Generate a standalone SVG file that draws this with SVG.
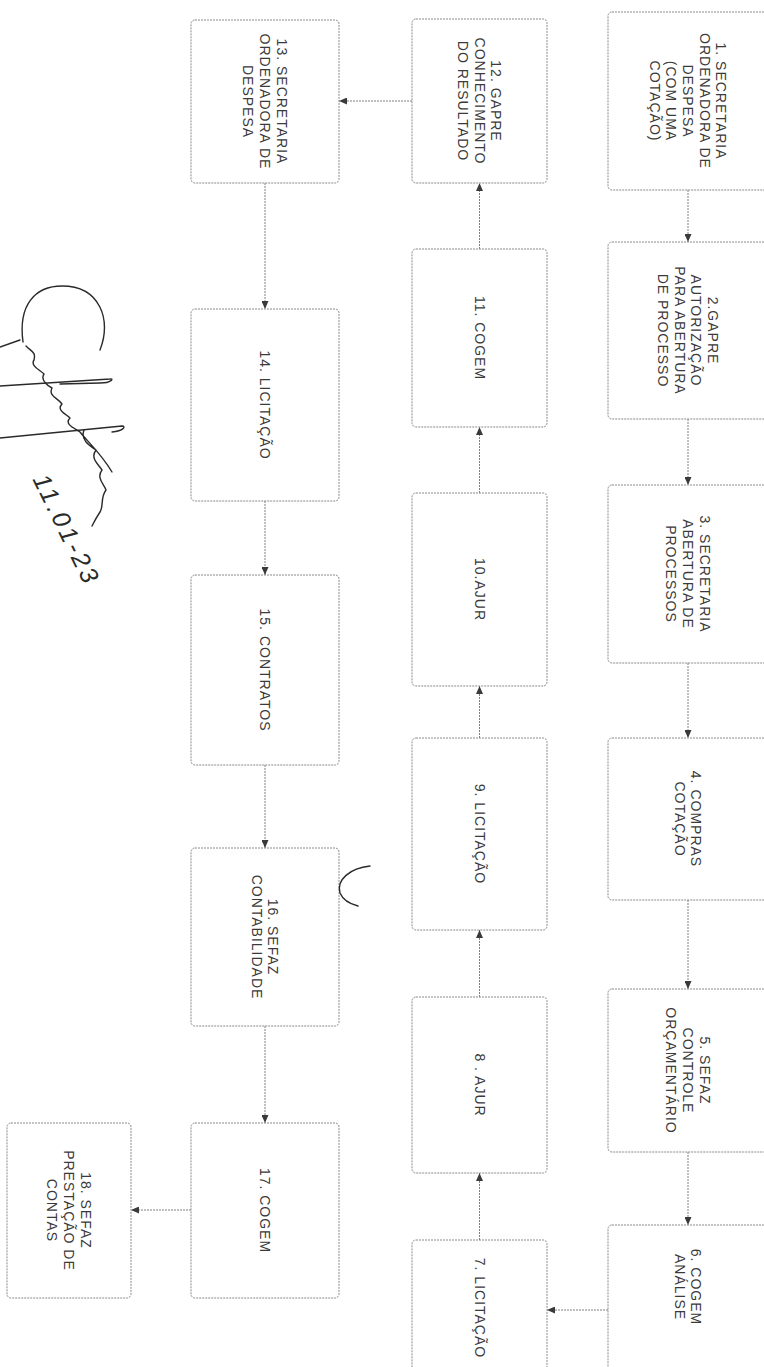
<svg xmlns="http://www.w3.org/2000/svg" width="764" height="1367" viewBox="0 0 764 1367">
<style>
.box{fill:#fff;stroke:#8a8a8a;stroke-width:1;stroke-dasharray:2 1}
.lbl{font-family:"Liberation Sans",Arial,sans-serif;font-size:14px;letter-spacing:1px;fill:#3a3a3a;text-anchor:middle}
.con{fill:none;stroke:#808080;stroke-width:1;stroke-dasharray:2 1}
.ink{fill:none;stroke:#2a2a2a;stroke-width:1.4;stroke-linecap:round;stroke-linejoin:round}
.date{font-family:"Liberation Sans",Arial,sans-serif;font-style:italic;font-size:25px;letter-spacing:3px;fill:#2a2a2a;text-anchor:middle}
</style>
<defs>
<marker id="ah" markerUnits="userSpaceOnUse" markerWidth="8" markerHeight="7" refX="8" refY="3.5" orient="auto">
<path d="M0,0 L8,3.5 L0,7 z" fill="#3a3a3a"/>
</marker>
</defs>
<rect width="764" height="1367" fill="#fff"/>
<g id="connectors">
<path class="con" d="M688,190 V242" marker-end="url(#ah)"/>
<path class="con" d="M688,419 V485" marker-end="url(#ah)"/>
<path class="con" d="M688,663 V738" marker-end="url(#ah)"/>
<path class="con" d="M688,900 V989" marker-end="url(#ah)"/>
<path class="con" d="M688,1152 V1225" marker-end="url(#ah)"/>
<path class="con" d="M608,1310 H547" marker-end="url(#ah)"/>
<path class="con" d="M479.5,1240 V1173" marker-end="url(#ah)"/>
<path class="con" d="M479.5,997 V930" marker-end="url(#ah)"/>
<path class="con" d="M479.5,738 V686" marker-end="url(#ah)"/>
<path class="con" d="M479.5,493 V427" marker-end="url(#ah)"/>
<path class="con" d="M479.5,249 V183" marker-end="url(#ah)"/>
<path class="con" d="M412,101 H339" marker-end="url(#ah)"/>
<path class="con" d="M265,183 V309" marker-end="url(#ah)"/>
<path class="con" d="M265,501 V575" marker-end="url(#ah)"/>
<path class="con" d="M265,765 V848" marker-end="url(#ah)"/>
<path class="con" d="M265,1026 V1123" marker-end="url(#ah)"/>
<path class="con" d="M191,1210 H131" marker-end="url(#ah)"/>
</g>
<g id="n1"><rect class="box" x="608" y="12" width="160" height="178" rx="4"/>
<text class="lbl" transform="translate(688,101) rotate(90)"><tspan x="0" y="-28.4">1. SECRETARIA</tspan><tspan x="0" y="-11.7">ORDENADORA DE</tspan><tspan x="0" y="5">DESPESA</tspan><tspan x="0" y="21.7">(COM UMA</tspan><tspan x="0" y="38.4">COTAÇÃO)</tspan></text></g>
<g id="n2"><rect class="box" x="608" y="242" width="160" height="177" rx="4"/>
<text class="lbl" transform="translate(688,330.5) rotate(90)"><tspan x="0" y="-20">2.GAPRE</tspan><tspan x="0" y="-3.3">AUTORIZAÇÃO</tspan><tspan x="0" y="13.4">PARA ABERTURA</tspan><tspan x="0" y="30">DE PROCESSO</tspan></text></g>
<g id="n3"><rect class="box" x="608" y="485" width="160" height="178" rx="4"/>
<text class="lbl" transform="translate(688,574) rotate(90)"><tspan x="0" y="-11.7">3. SECRETARIA</tspan><tspan x="0" y="5">ABERTURA DE</tspan><tspan x="0" y="21.7">PROCESSOS</tspan></text></g>
<g id="n4"><rect class="box" x="608" y="738" width="160" height="162" rx="4"/>
<text class="lbl" transform="translate(688,819) rotate(90)"><tspan x="0" y="-3.3">4. COMPRAS</tspan><tspan x="0" y="13.4">COTAÇÃO</tspan></text></g>
<g id="n5"><rect class="box" x="608" y="989" width="160" height="163" rx="4"/>
<text class="lbl" transform="translate(688,1070.5) rotate(90)"><tspan x="0" y="-11.7">5. SEFAZ</tspan><tspan x="0" y="5">CONTROLE</tspan><tspan x="0" y="21.7">ORÇAMENTÁRIO</tspan></text></g>
<g id="n6"><rect class="box" x="608" y="1225" width="160" height="160" rx="4"/>
<text class="lbl" transform="translate(688,1287) rotate(90)"><tspan x="0" y="-3.3">6. COGEM</tspan><tspan x="0" y="13.4">ANÁLISE</tspan></text></g>
<g id="n7"><rect class="box" x="412" y="1240" width="135" height="145" rx="4"/>
<text class="lbl" transform="translate(479.5,1308) rotate(90)"><tspan x="0" y="5">7. LICITAÇÃO</tspan></text></g>
<g id="n8"><rect class="box" x="412" y="997" width="135" height="176" rx="4"/>
<text class="lbl" transform="translate(479.5,1085) rotate(90)"><tspan x="0" y="5">8 . AJUR</tspan></text></g>
<g id="n9"><rect class="box" x="412" y="738" width="135" height="192" rx="4"/>
<text class="lbl" transform="translate(479.5,834) rotate(90)"><tspan x="0" y="5">9. LICITAÇÃO</tspan></text></g>
<g id="n10"><rect class="box" x="412" y="493" width="135" height="193" rx="4"/>
<text class="lbl" transform="translate(479.5,589.5) rotate(90)"><tspan x="0" y="5">10.AJUR</tspan></text></g>
<g id="n11"><rect class="box" x="412" y="249" width="135" height="178" rx="4"/>
<text class="lbl" transform="translate(479.5,338) rotate(90)"><tspan x="0" y="5">11. COGEM</tspan></text></g>
<g id="n12"><rect class="box" x="412" y="19" width="135" height="164" rx="4"/>
<text class="lbl" transform="translate(479.5,101) rotate(90)"><tspan x="0" y="-11.7">12. GAPRE</tspan><tspan x="0" y="5">CONHECIMENTO</tspan><tspan x="0" y="21.7">DO RESULTADO</tspan></text></g>
<g id="n13"><rect class="box" x="191" y="20" width="148" height="163" rx="4"/>
<text class="lbl" transform="translate(265,101.5) rotate(90)"><tspan x="0" y="-11.7">13. SECRETARIA</tspan><tspan x="0" y="5">ORDENADORA DE</tspan><tspan x="0" y="21.7">DESPESA</tspan></text></g>
<g id="n14"><rect class="box" x="191" y="309" width="148" height="192" rx="4"/>
<text class="lbl" transform="translate(265,405) rotate(90)"><tspan x="0" y="5">14. LICITAÇÃO</tspan></text></g>
<g id="n15"><rect class="box" x="191" y="575" width="148" height="190" rx="4"/>
<text class="lbl" transform="translate(265,670) rotate(90)"><tspan x="0" y="5">15. CONTRATOS</tspan></text></g>
<g id="n16"><rect class="box" x="191" y="848" width="148" height="178" rx="4"/>
<text class="lbl" transform="translate(265,937) rotate(90)"><tspan x="0" y="-3.3">16. SEFAZ</tspan><tspan x="0" y="13.4">CONTABILIDADE</tspan></text></g>
<g id="n17"><rect class="box" x="191" y="1123" width="148" height="175" rx="4"/>
<text class="lbl" transform="translate(265,1210.5) rotate(90)"><tspan x="0" y="5">17. COGEM</tspan></text></g>
<g id="n18"><rect class="box" x="7" y="1123" width="124" height="175" rx="4"/>
<text class="lbl" transform="translate(69,1210.5) rotate(90)"><tspan x="0" y="-11.7">18. SEFAZ</tspan><tspan x="0" y="5">PRESTAÇÃO DE</tspan><tspan x="0" y="21.7">CONTAS</tspan></text></g>
<g id="signature">
<path class="ink" d="M100,350 C112,320 100,286 62,286 C35,286 18,305 23,342"/>
<path class="ink" d="M0,347 L20,340"/>
<path class="ink" d="M0,386 L110,379 C114,378 112,383 100,383 L60,384"/>
<path class="ink" d="M0,438 L122,426 C126,426 124,431 112,432"/>
<path class="ink" d="M26,346 C32,352 36,352 34,360 C30,366 40,370 44,374 C40,380 48,386 52,388 C48,396 58,398 62,404 C56,410 66,414 70,418 C64,424 74,428 80,432 C86,440 100,452 112,472 M84,430 C80,440 90,446 96,450 C90,458 98,464 102,470 C96,478 104,484 106,490 C100,498 104,506 100,512 C96,518 94,522 92,526"/>
<text class="date" transform="translate(66,530) rotate(64)" y="8">11.01-23</text>
<path class="ink" d="M370,866 C350,868 336,880 340,893 C343,900 350,904 358,906"/>
</g>
</svg>
